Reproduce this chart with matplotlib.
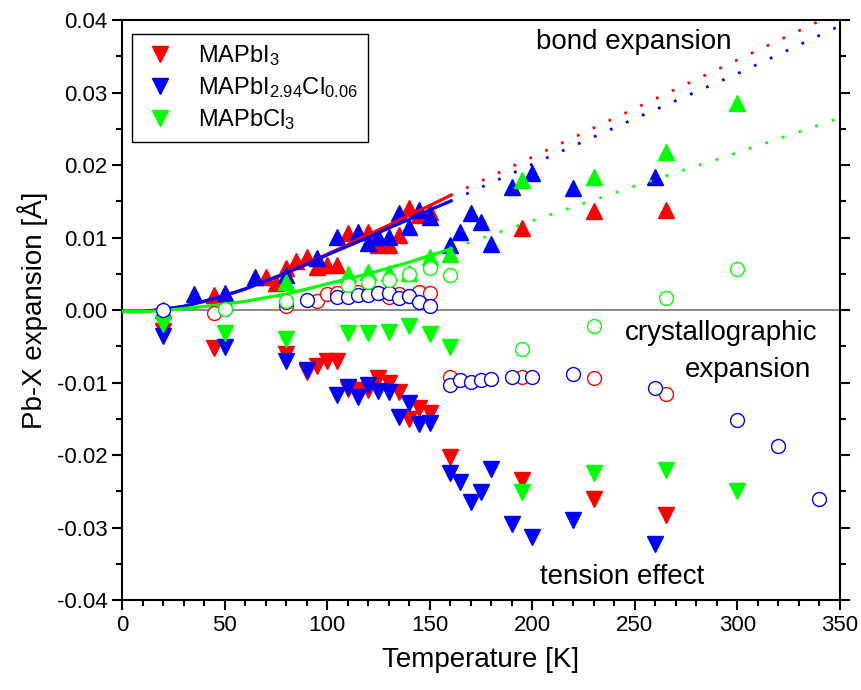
import numpy as np
import matplotlib
matplotlib.use('Agg')
import matplotlib.pyplot as plt

plt.rcParams['font.family'] = ['Liberation Sans', 'DejaVu Sans']
plt.rcParams['mathtext.fontset'] = 'custom'
plt.rcParams['mathtext.rm'] = 'Liberation Sans'
plt.rcParams['mathtext.default'] = 'regular'

# bond expansion (up triangles)
T_up_I = [45, 70, 75, 80, 85, 90, 95, 100, 105, 110, 120, 125, 130, 135, 140, 145, 150, 195, 230, 265]
y_up_I = [0.0021, 0.0046, 0.0037, 0.0058, 0.0067, 0.0073, 0.0059, 0.0062, 0.0062, 0.0106, 0.0107, 0.0089,
          0.0089, 0.0103, 0.0141, 0.0131, 0.0135, 0.0113, 0.0137, 0.0138]
T_up_M = [20, 35, 50, 65, 80, 95, 105, 115, 120, 125, 130, 135, 140, 145, 150, 160, 165, 170, 175, 180,
          190, 200, 220, 260]
y_up_M = [0.0000, 0.0022, 0.0024, 0.0045, 0.0048, 0.0072, 0.0101, 0.0108, 0.0092, 0.0101, 0.0101, 0.0134,
          0.0115, 0.0138, 0.0128, 0.0090, 0.0108, 0.0134, 0.0121, 0.0091, 0.0170, 0.0189, 0.0168, 0.0183]
T_up_C = [80, 110, 120, 130, 140, 150, 160, 195, 230, 265, 300]
y_up_C = [0.0038, 0.0050, 0.0053, 0.0051, 0.0051, 0.0073, 0.0077, 0.0179, 0.0183, 0.0218, 0.0285]

# tension effect (down triangles)
T_dn_I = [20, 45, 80, 90, 95, 100, 105, 110, 115, 120, 125, 130, 135, 140, 145, 150, 160, 195, 230, 265]
y_dn_I = [-0.0029, -0.0053, -0.0060, -0.0085, -0.0077, -0.0070, -0.0070, -0.0109, -0.0110, -0.0110,
          -0.0094, -0.0101, -0.0113, -0.0150, -0.0135, -0.0142, -0.0203, -0.0235, -0.0260, -0.0283]
T_dn_M = [20, 50, 80, 90, 105, 110, 115, 120, 125, 130, 135, 140, 145, 150, 160, 165, 170, 175, 180,
          190, 200, 220, 260]
y_dn_M = [-0.0036, -0.0051, -0.0071, -0.0083, -0.0117, -0.0106, -0.0120, -0.0103, -0.0112, -0.0113,
          -0.0148, -0.0128, -0.0157, -0.0156, -0.0225, -0.0237, -0.0265, -0.0251, -0.0219, -0.0295,
          -0.0313, -0.0290, -0.0323]
T_dn_C = [20, 50, 80, 110, 120, 130, 140, 150, 160, 195, 230, 265, 300]
y_dn_C = [-0.0019, -0.0032, -0.0040, -0.0032, -0.0032, -0.0030, -0.0022, -0.0033, -0.0051, -0.0251,
          -0.0225, -0.0221, -0.0250]

# crystallographic expansion (open circles)
T_c_I = [45, 80, 95, 100, 105, 110, 115, 120, 125, 130, 135, 140, 145, 150, 160, 195, 230, 265]
y_c_I = [-0.0004, 0.0006, 0.0012, 0.0022, 0.0023, 0.0024, 0.0025, 0.0024, 0.0023, 0.0018, 0.0022,
         0.0020, 0.0025, 0.0023, -0.0093, -0.0093, -0.0094, -0.0116]
T_c_M = [20, 50, 80, 90, 105, 110, 115, 120, 125, 130, 135, 140, 145, 150, 160, 165, 170, 175, 180,
         190, 200, 220, 260, 300, 320, 340]
y_c_M = [0.0000, 0.0002, 0.0011, 0.0014, 0.0018, 0.0018, 0.0021, 0.0021, 0.0023, 0.0023, 0.0017,
         0.0019, 0.0011, 0.0006, -0.0104, -0.0096, -0.0099, -0.0096, -0.0095, -0.0093, -0.0092,
         -0.0088, -0.0107, -0.0152, -0.0187, -0.0261]
T_c_C = [50, 80, 110, 120, 130, 140, 150, 160, 195, 230, 265, 300]
y_c_C = [0.0001, 0.0013, 0.0034, 0.0039, 0.0041, 0.0050, 0.0058, 0.0048, -0.0054, -0.0022, 0.0017, 0.0056]

# fit curves (solid to 160 K, dotted beyond)
T_fit = [0, 10, 20, 30, 40, 50, 60, 70, 80, 90, 100, 110, 120, 130, 140, 150, 160]
fit_I = [-0.0002, -0.0002, 0.0001, 0.0005, 0.0012, 0.0020, 0.0029, 0.0040, 0.0051, 0.0064, 0.0077,
         0.0090, 0.0104, 0.0117, 0.0131, 0.0144, 0.0158]
fit_M = [-0.0002, -0.0002, 0.0001, 0.0005, 0.0012, 0.0020, 0.0029, 0.0040, 0.0051, 0.0063, 0.0076,
         0.0088, 0.0100, 0.0113, 0.0125, 0.0138, 0.0150]
fit_C = [-0.0002, -0.0002, -0.0001, 0.0002, 0.0005, 0.0008, 0.0012, 0.0017, 0.0022, 0.0029, 0.0036,
         0.0043, 0.0050, 0.0058, 0.0066, 0.0075, 0.0084]
T_ext = [160, 200, 250, 300, 350]
ext_I = [0.0158, 0.0211, 0.0278, 0.0345, 0.0412]
ext_M = [0.0150, 0.0201, 0.0264, 0.0326, 0.0392]
ext_C = [0.0084, 0.0123, 0.0171, 0.0217, 0.0265]

labels = ['MAPbI$_3$', 'MAPbI$_{2.94}$Cl$_{0.06}$', 'MAPbCl$_3$']
colors = ['#ff0000', '#0000ff', '#00ff00']

fig = plt.figure(figsize=(8.61, 6.90), dpi=100)
ax = fig.add_axes([0.1417, 0.1304, 0.8339, 0.8406])

ax.axhline(0, color='#808080', lw=1.3, zorder=1)

up = [(T_up_I, y_up_I), (T_up_M, y_up_M), (T_up_C, y_up_C)]
dn = [(T_dn_I, y_dn_I), (T_dn_M, y_dn_M), (T_dn_C, y_dn_C)]
circ = [(T_c_I, y_c_I), (T_c_M, y_c_M), (T_c_C, y_c_C)]
fits = [fit_I, fit_M, fit_C]
exts = [ext_I, ext_M, ext_C]

handles = []
for i in range(3):
    ax.plot(up[i][0], up[i][1], ls='none', marker='^', ms=12, color=colors[i], mec=colors[i], zorder=3)
    h, = ax.plot(dn[i][0], dn[i][1], ls='none', marker='v', ms=12, color=colors[i], mec=colors[i],
                 zorder=3, label=labels[i])
    handles.append(h)
for i in range(3):
    ax.plot(T_fit, fits[i], color=colors[i], lw=2.3, zorder=4)
    ax.plot(T_ext, exts[i], color=colors[i], lw=2.0, ls=(0, (1, 5.3)), zorder=4)
for i in range(3):
    ax.plot(circ[i][0], circ[i][1], ls='none', marker='o', ms=10, mfc='white', mec=colors[i],
            mew=1.0, zorder=5)

ax.text(202, 0.037, 'bond expansion', fontsize=20, va='center', ha='left')
ax.text(339, -0.0032, 'crystallographic', fontsize=20, va='center', ha='right')
ax.text(336, -0.0083, 'expansion', fontsize=20, va='center', ha='right')
ax.text(204, -0.0368, 'tension effect', fontsize=20, va='center', ha='left')

ax.set_xlim(0, 350)
ax.set_ylim(-0.04, 0.04)
ax.set_xticks(np.arange(0, 351, 50))
ax.set_xticks(np.arange(0, 351, 10), minor=True)
ax.set_yticks(np.arange(-0.04, 0.041, 0.01))
ax.set_yticks(np.arange(-0.04, 0.041, 0.005), minor=True)
ax.set_yticklabels(['%.2f' % v for v in np.arange(-0.04, 0.041, 0.01)])
ax.tick_params(which='both', direction='out', width=1.5, labelsize=16, right=True)
ax.tick_params(which='major', length=7)
ax.tick_params(which='minor', length=4)
for s in ax.spines.values():
    s.set_linewidth(1.5)

ax.set_xlabel('Temperature [K]', fontsize=20, labelpad=8)
ax.set_ylabel('Pb-X expansion [Å]', fontsize=20, labelpad=6)

leg = ax.legend(handles=handles, loc='upper left', bbox_to_anchor=(0.014, 0.976), borderaxespad=0,
                fontsize=17, fancybox=False, edgecolor='black', framealpha=1, handletextpad=0.8,
                handlelength=1.6, labelspacing=0.3, borderpad=0.4)
leg.get_frame().set_linewidth(1.0)

fig.savefig('out.png', dpi=100)
